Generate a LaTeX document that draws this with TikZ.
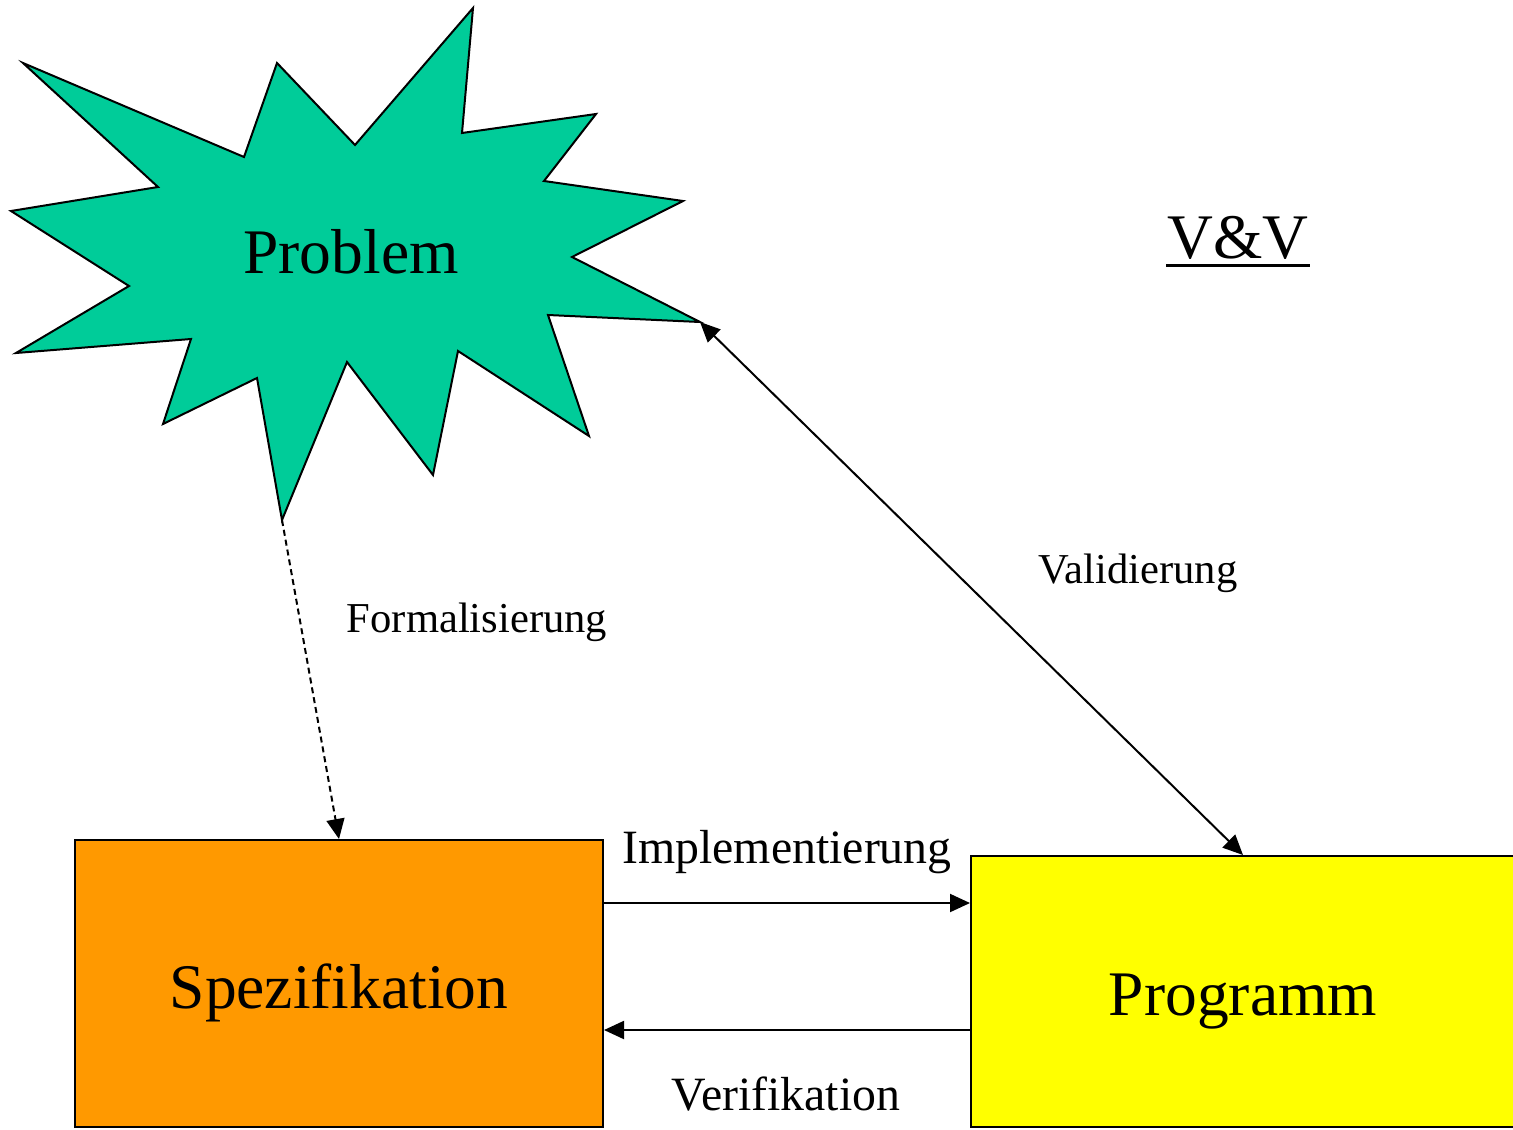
\documentclass[tikz,border=0pt]{standalone}
\usepackage{fontspec}
\setmainfont{Liberation Serif}
\usetikzlibrary{arrows.meta,calc}
\definecolor{burst}{RGB}{0,204,153}
\definecolor{specfill}{RGB}{255,153,0}
\definecolor{progfill}{RGB}{255,255,0}
\begin{document}
\begin{tikzpicture}[x=0.5pt,y=-0.5pt,
  line width=1pt,
  tip/.tip={Triangle[length=10pt,width=9pt]},
  bigtext/.style={font=\fontsize{31.75pt}{38pt}\selectfont, inner sep=0pt, anchor=base},
  midtext/.style={font=\fontsize{23.9pt}{29pt}\selectfont, inner sep=0pt, anchor=base},
  smalltext/.style={font=\fontsize{21.3pt}{26pt}\selectfont, inner sep=0pt, anchor=base},
  boxshape/.style={draw=black, rectangle, inner sep=0pt},
  flow/.style={-tip},
  both/.style={tip-tip}]
\clip (0,0) rectangle (1513,1129);
\fill[white] (0,0) rectangle (1513,1129);

% burst shape around "Problem"
\draw[fill=burst, line join=miter]
  (473,8) -- (462,133) -- (596,114) -- (544,181) -- (683,201) -- (572,257)
  -- (700,322) coordinate (tipR) -- (548,315) -- (589,436) -- (458,351)
  -- (433,475) -- (347,362) -- (282,520) coordinate (tipB) -- (257,378)
  -- (163,424) -- (191,339) -- (16,353) -- (129,286) -- (11,211)
  -- (158,187) -- (23,63) -- (244,157) -- (277,63) -- (355,145) -- cycle;
\node[bigtext] (problem) at (351,273) {Problem};

% boxes
\node[boxshape, fill=specfill, minimum width=264pt, minimum height=143.5pt] (spez) at (339,983.5) {};
\node[bigtext] (speztext) at (339,1008) {Spezifikation};
\node[boxshape, fill=progfill, minimum width=272pt, minimum height=135.5pt] (prog) at (1243,991.5) {};
\node[bigtext] (progtext) at (1243,1015) {Programm};

% V&V heading
\node[bigtext] (vv) at (1238,258) {V\&V};
\draw[line width=1.5pt] ([yshift=-3.5pt]vv.base west) -- ([yshift=-3.5pt]vv.base east);

% connectors
\draw[flow, dash pattern=on 3pt off 2pt] (tipB) -- (spez.north);
\draw[both] (prog.north) -- (tipR);
\draw[flow] ($(spez.north east)+(0,64)$) -- ($(prog.north west)+(0,48)$);
\draw[flow] ($(prog.north west)+(0,175)$) -- ($(spez.north east)+(0,191)$);

% connector labels
\node[smalltext] (formal) at (477,632) {Formalisierung};
\node[smalltext] (valid) at (1138,583) {Validierung};
\node[midtext] (impl) at (787,863) {Implementierung};
\node[midtext] (verif) at (786,1110) {Verifikation};
\end{tikzpicture}
\end{document}
